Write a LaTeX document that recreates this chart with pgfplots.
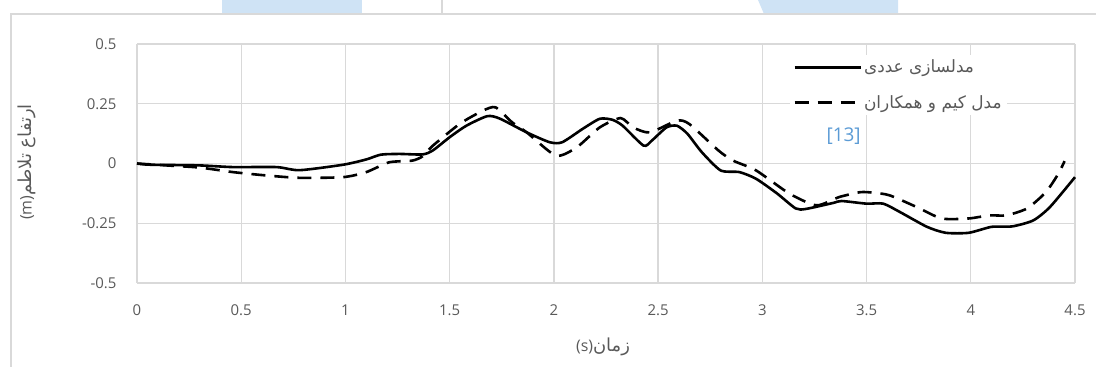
\documentclass[border=0pt]{standalone}
\usepackage{fontspec}
\setmainfont{Open Sans}
\newfontfamily\arabicfont[Script=Arabic]{DejaVu Sans}
\TeXXeTstate=1
\usepackage{pgfplots}
\pgfplotsset{compat=1.18}
\definecolor{txtgray}{HTML}{595959}
\definecolor{gridgray}{HTML}{D9D9D9}
\definecolor{refblue}{HTML}{5B9BD5}
\definecolor{wmblue}{HTML}{CFE3F5}
\begin{document}
\begin{tikzpicture}
\useasboundingbox (0bp,0bp) rectangle (1096bp,367bp);
% faint watermark remains at the top
\fill[wmblue] (222bp,367bp) -- (362bp,367bp) -- (362bp,353bp) -- (222bp,353bp) -- cycle;
\fill[wmblue] (758bp,367bp) -- (898bp,367bp) -- (898bp,353bp) -- (764bp,353bp) -- cycle;
\draw[gridgray,line width=1.5bp] (442bp,353bp) -- (442bp,367bp);
% outer chart frame
\draw[gridgray,line width=1.3bp] (11bp,-5bp) -- (11bp,353bp) -- (1100bp,353bp);
\begin{axis}[
  at={(137bp,84bp)}, anchor=south west,
  scale only axis, width=938bp, height=239bp,
  xmin=0, xmax=4.5, ymin=-0.5, ymax=0.5,
  xtick={0,0.5,1,1.5,2,2.5,3,3.5,4,4.5},
  xticklabels={0,0.5,1,1.5,2,2.5,3,3.5,4,4.5},
  ytick={-0.5,-0.25,0,0.25,0.5},
  yticklabels={-0.5,-0.25,0,0.25,0.5},
  grid=major,
  grid style={gridgray, line width=1.3bp},
  axis line style={draw=none},
  major tick length=0pt,
  tick label style={font=\fontsize{15}{18}\selectfont, text=txtgray},
  xticklabel style={yshift=-18bp},
  yticklabel style={xshift=-17bp},
  clip=false,
  legend style={at={(rel axis cs:0.696,0.955)}, anchor=north west, draw=none, fill=white,
    font=\fontsize{17}{20}\selectfont, text=txtgray, row sep=17bp, inner sep=3bp},
  legend cell align=left,
  legend image code/.code={\draw[#1, line width=3bp] (0bp,0bp) -- (66bp,0bp);},
]
\addplot[black, line width=2.6bp, smooth, tension=0.4] coordinates {
(0,0) (0.06,-0.005) (0.30,-0.008) (0.46,-0.015) (0.67,-0.015) (0.78,-0.028) (0.99,-0.005)
(1.10,0.017) (1.17,0.037) (1.26,0.04) (1.37,0.038) (1.42,0.055) (1.50,0.11) (1.58,0.158)
(1.68,0.198) (1.74,0.188) (1.87,0.13) (1.98,0.089) (2.04,0.089) (2.14,0.146) (2.22,0.187)
(2.28,0.183) (2.33,0.158) (2.43,0.075) (2.47,0.096) (2.54,0.151) (2.59,0.158) (2.64,0.125)
(2.71,0.047) (2.80,-0.029) (2.89,-0.036) (2.97,-0.064) (3.07,-0.125) (3.16,-0.188) (3.21,-0.19)
(3.34,-0.165) (3.38,-0.157) (3.50,-0.168) (3.58,-0.168) (3.66,-0.203) (3.79,-0.265) (3.88,-0.29)
(3.99,-0.29) (4.10,-0.265) (4.20,-0.263) (4.30,-0.238) (4.38,-0.182) (4.50,-0.057)
};
\addlegendentry{\arabicfont\beginR مدلسازی عددی\endR}
\addplot[black, line width=2.6bp, dash pattern=on 14bp off 9bp, smooth, tension=0.4] coordinates {
(0,0) (0.14,-0.008) (0.30,-0.017) (0.46,-0.036) (0.62,-0.05) (0.78,-0.06) (0.99,-0.057)
(1.10,-0.036) (1.21,0.005) (1.32,0.012) (1.37,0.03) (1.42,0.075) (1.55,0.167) (1.66,0.221)
(1.72,0.235) (1.80,0.172) (1.87,0.13) (2.01,0.033) (2.11,0.068) (2.22,0.151) (2.32,0.19)
(2.38,0.151) (2.46,0.13) (2.59,0.179) (2.65,0.165) (2.79,0.054) (2.86,0.012) (2.97,-0.029)
(3.13,-0.126) (3.26,-0.175) (3.37,-0.14) (3.47,-0.12) (3.53,-0.122) (3.61,-0.133) (3.74,-0.182)
(3.86,-0.23) (3.99,-0.23) (4.09,-0.217) (4.17,-0.217) (4.27,-0.188) (4.36,-0.12) (4.42,-0.043)
(4.45,0.01)
};
\addlegendentry{\arabicfont\beginR مدل کیم و همکاران\endR}
\node[text=refblue, font=\fontsize{19}{22}\selectfont] at (axis cs:3.39,0.1125) {[13]};
\end{axis}
\node[text=txtgray, font=\fontsize{16}{19}\selectfont] at (603bp,20bp) {(s)\arabicfont\fontsize{18}{20}\selectfont\beginR زمان\endR};
\node[text=txtgray, font=\fontsize{16}{19}\selectfont, rotate=90] at (27bp,205bp) {(m)\arabicfont\fontsize{18}{20}\selectfont\beginR ارتفاع تلاطم\endR};
\end{tikzpicture}
\end{document}
